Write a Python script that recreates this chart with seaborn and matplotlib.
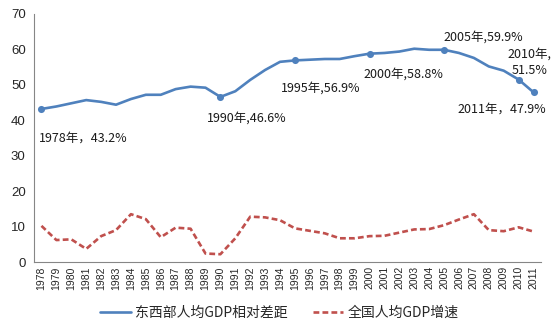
import matplotlib
matplotlib.use("Agg")
import matplotlib.pyplot as plt
import seaborn as sns
import pandas as pd
import numpy as np
from matplotlib.ticker import FixedLocator
from matplotlib.lines import Line2D

years = list(range(1978, 2012))
gap = [43.2, 43.9, 44.8, 45.7, 45.2, 44.4, 46.0, 47.2, 47.2, 48.8, 49.5, 49.2,
       46.6, 48.2, 51.4, 54.2, 56.5, 56.9, 57.1, 57.3, 57.3, 58.1, 58.8, 59.0,
       59.4, 60.2, 59.9, 59.9, 59.0, 57.6, 55.2, 54.0, 51.5, 47.9]
growth = [10.2, 6.2, 6.4, 3.7, 7.3, 9.0, 13.5, 12.1, 7.0, 9.7, 9.4, 2.4,
          2.2, 6.7, 12.8, 12.6, 11.8, 9.5, 8.8, 8.1, 6.7, 6.7, 7.3, 7.4,
          8.3, 9.2, 9.3, 10.4, 12.0, 13.5, 9.0, 8.7, 9.8, 8.6]
series_names = ["东西部人均GDP相对差距", "全国人均GDP增速"]
label_years = [1978, 1990, 1995, 2000, 2005, 2010, 2011]
label_texts = ["1978年，43.2%", "1990年,46.6%", "1995年,56.9%", "2000年,58.8%",
               "2005年,59.9%", "2010年,\n51.5%", "2011年，47.9%"]

sns.set_style("white")
plt.rcParams['font.family'] = ['Noto Sans CJK SC', 'DejaVu Sans']

df = pd.DataFrame({"year": years * 2,
                   "value": gap + growth,
                   "series": [series_names[0]] * len(years) + [series_names[1]] * len(years)})

fig = plt.figure(figsize=(5.54, 3.30), dpi=100)
ax = fig.add_axes([0.0614, 0.206, 0.9151, 0.7516])

blue = "#4F81BD"
red = "#C0504D"
dash = (0, (2.2, 1.2))
sns.lineplot(data=df, x="year", y="value", hue="series",
             palette=[blue, red], linewidth=1.9, ax=ax, legend=False)
ax.lines[1].set_linestyle(dash)

mk = pd.DataFrame({"year": label_years, "value": [gap[years.index(y)] for y in label_years]})
sns.scatterplot(data=mk, x="year", y="value", color=blue, s=26, edgecolor=blue,
                linewidth=0, ax=ax, zorder=5, legend=False)

# annotations: (dx, dy in pixels, ha)
offs = [(-3, -29, 'left'), (-13, -21, 'left'), (-14, -28, 'left'), (-6, -20, 'left'),
        (-1, 13, 'left'), (11, 17, 'center'), (13, -17, 'right')]
for y, t, (dx, dy, ha) in zip(label_years, label_texts, offs):
    ax.annotate(t, xy=(y, gap[years.index(y)]), xytext=(dx, dy),
                textcoords='offset pixels', ha=ha, va='center',
                fontsize=9, color='#1a1a1a', linespacing=1.35)

ax.set_xlim(1977.5, 2011.5)
ax.set_ylim(0, 70)
ax.set_yticks(range(0, 71, 10))
ax.set_xticks(years)
ax.set_xticklabels([str(y) for y in years], rotation=90, fontsize=7.5,
                   family=['Liberation Sans', 'DejaVu Sans'])
ax.xaxis.set_minor_locator(FixedLocator(np.arange(1977.5, 2012, 1)))
ax.tick_params(axis='x', which='major', length=0, pad=3)
ax.tick_params(axis='x', which='minor', length=4, color='#868686', width=0.8, direction='out')
ax.tick_params(axis='y', which='major', length=4, color='#868686', width=0.8,
               direction='out', labelsize=9.5, pad=2)
for lab in ax.get_yticklabels():
    lab.set_family(['Liberation Sans', 'DejaVu Sans'])
ax.set_xlabel("")
ax.set_ylabel("")
sns.despine(ax=ax)
for s in ['left', 'bottom']:
    ax.spines[s].set_color('#868686')
    ax.spines[s].set_linewidth(0.8)

handles = [Line2D([0], [0], color=blue, lw=1.9),
           Line2D([0], [0], color=red, lw=1.9, linestyle=dash)]
fig.legend(handles, series_names, loc='center', bbox_to_anchor=(0.504, 0.052),
           ncol=2, frameon=False, fontsize=10, handlelength=2.2,
           handletextpad=0.3, columnspacing=1.8)

fig.savefig("out.png", dpi=100)
